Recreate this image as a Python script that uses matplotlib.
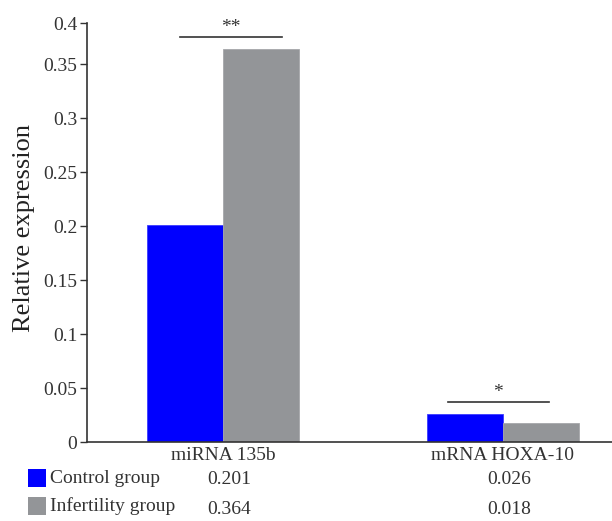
import matplotlib.pyplot as plt
from matplotlib.patches import Rectangle
import matplotlib.transforms as mtransforms

plt.rcParams['font.family'] = ['Liberation Serif', 'DejaVu Serif']

# 数据
categories = ['miRNA 135b', 'mRNA HOXA-10']
control = [0.201, 0.026]
infertility = [0.364, 0.018]
groups = ['Control group', 'Infertility group']
yticks = [0, 0.05, 0.1, 0.15, 0.2, 0.25, 0.3, 0.35, 0.388]
yticklabels = ['0', '0.05', '0.1', '0.15', '0.2', '0.25', '0.3', '0.35', '0.4']
sig_marks = ['**', '*']
sig_height = [0.3747, 0.037]
sig_span = [(-0.154, 0.211), (-0.198, 0.163)]

blue = '#0000ff'
gray = '#939598'
dark = '#333333'

fig = plt.figure(figsize=(6.12, 5.21), dpi=100)
ax = fig.add_axes([0.1422, 0.1516, 0.858, 0.8042])

w = 0.27
x = list(range(len(categories)))
ax.bar([i - w / 2 for i in x], control, width=w, color=blue, edgecolor='#3b3bff', linewidth=0.6)
ax.bar([i + w / 2 for i in x], infertility, width=w, color=gray, edgecolor='#a6a7aa', linewidth=0.6)

# 显著性标记
for i in x:
    ax.plot([i + sig_span[i][0], i + sig_span[i][1]], [sig_height[i], sig_height[i]], color=dark, lw=1.2)
    ax.text(i + (sig_span[i][0] + sig_span[i][1]) / 2, sig_height[i] + 0.001, sig_marks[i],
            ha='center', va='bottom', fontsize=14, color=dark)

ax.set_xlim(-0.486, 1.39)
ax.set_ylim(0, 0.388)
ax.set_yticks(yticks)
ax.set_yticklabels(yticklabels)
ax.set_xticks([])
ax.tick_params(axis='y', direction='out', length=5, width=1, color=dark, labelcolor=dark, labelsize=14, pad=2)
for s in ['top', 'right']:
    ax.spines[s].set_visible(False)
for s in ['left', 'bottom']:
    ax.spines[s].set_color(dark)
    ax.spines[s].set_linewidth(1.2)
ax.set_ylabel('Relative expression', fontsize=19, color='#222222')
ax.yaxis.set_label_coords(-0.10, 0.51)

# 表格
trans = mtransforms.blended_transform_factory(ax.transData, ax.transAxes)
for i, c in enumerate(categories):
    ax.text(i, -0.031, c, transform=trans, ha='center', va='center', fontsize=14, color=dark)
    ax.text(i + 0.022, -0.0883, f'{control[i]:.3f}', transform=trans, ha='center', va='center', fontsize=14, color=dark)
    ax.text(i + 0.022, -0.162, f'{infertility[i]:.3f}', transform=trans, ha='center', va='center', fontsize=14, color=dark)

H = 521.0
Wd = 612.0
for (y0, col, name) in [(469, blue, groups[0]), (497, gray, groups[1])]:
    fig.patches.append(Rectangle((28 / Wd, 1 - (y0 + 18) / H), 18 / Wd, 18 / H,
                                 transform=fig.transFigure, facecolor=col, edgecolor='none'))
    fig.text(50 / Wd, 1 - (y0 + 9.5) / H, name, ha='left', va='center', fontsize=14, color=dark)

fig.savefig('out.png', dpi=100)
